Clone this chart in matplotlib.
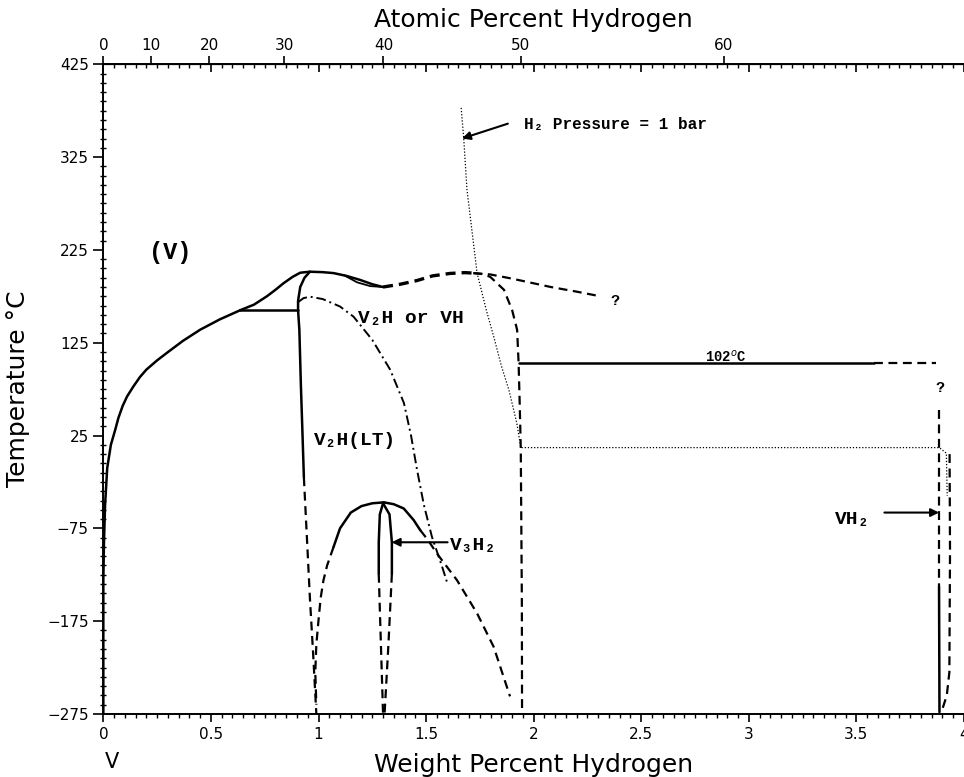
import numpy as np
import matplotlib.pyplot as plt

M_H = 1.008
M_V = 50.94

# alpha (V) solvus
alpha_wt = [0.0, 0.0, 0.003, 0.008, 0.018, 0.035, 0.055, 0.07, 0.09, 0.11, 0.14, 0.17, 0.2, 0.25, 0.295,
            0.37, 0.45, 0.54, 0.636]
alpha_T = [-275, -130, -90, -50, -10, 15, 31, 44, 57, 67, 78, 88, 96, 106, 114, 127, 139, 150, 160]

# upper solid boundary (left rise, peak, fall to 1.30)
upper_wt = [0.636, 0.70, 0.76, 0.80, 0.837, 0.88, 0.915, 0.96, 1.02, 1.07, 1.13, 1.194, 1.25, 1.30]
upper_T = [160, 166, 175, 182, 189, 196, 200.4, 201.5, 201, 200, 197, 192.6, 188, 185]
lens_wt = [1.12, 1.18, 1.24, 1.30]
lens_T = [197.5, 190, 186, 185]

tie160_wt = [0.636, 0.905]
tie160_T = [160, 160]

# beta boundary from the maximum down to 0 K
beta_solid_wt = [0.96, 0.935, 0.915, 0.905, 0.905, 0.911, 0.918, 0.925, 0.932]
beta_solid_T = [201.5, 195, 185, 170, 160, 139, 80, 31, -20]
beta_dash_wt = [0.932, 0.945, 0.96, 0.975, 0.99]
beta_dash_T = [-20, -80, -150, -210, -275]

# V2H(LT) boundary (dash-dot)
lt_wt = [0.907, 0.93, 0.96, 1.02, 1.10, 1.163, 1.25, 1.333, 1.397, 1.43, 1.458, 1.49, 1.527, 1.574, 1.60]
lt_T = [169, 173, 174.6, 172, 164, 153, 128, 96, 60, 25, -12, -50, -84, -116, -135]

# dashed cap and extension to "?"
cap_wt = [1.30, 1.38, 1.458, 1.53, 1.61, 1.68, 1.72, 1.80, 1.90, 2.00, 2.08, 2.20, 2.31]
cap_T = [185, 188, 192, 197, 199.6, 200.5, 200, 198.5, 194, 189, 185, 180, 175]

# VH boundary
vh_wt = [1.72, 1.76, 1.798, 1.862, 1.90, 1.923, 1.93, 1.935, 1.94, 1.945, 1.946]
vh_T = [200, 199, 196, 182, 160, 139, 103, 60, 12, -150, -275]

# H2 pressure = 1 bar isobar
iso_wt = [1.663, 1.675, 1.69, 1.713, 1.737, 1.78, 1.815, 1.85, 1.885, 1.922, 1.94, 3.885, 3.918, 3.922]
iso_T = [378, 345, 290, 246, 200, 160, 131, 100, 74, 38, 12, 12, 6, -40]

# 102 C tie line
tie102_solid_wt = [1.93, 3.58]
tie102_dash_wt = [3.58, 3.87]
tie102_T = [103, 103]

# VH2 boundaries
vh2_left_dash_wt = [3.884, 3.884]
vh2_left_dash_T = [52, -138]
vh2_left_solid_wt = [3.884, 3.886]
vh2_left_solid_T = [-138, -273]
vh2_right_wt = [3.933, 3.935, 3.932, 3.92, 3.895]
vh2_right_T = [5, -100, -230, -255, -273]

# V3H2 dome
dome_ls_wt = [1.07, 1.10, 1.15, 1.20, 1.25, 1.304]
dome_ls_T = [-95, -75, -58, -51, -48, -47]
dome_ld_wt = [1.07, 1.04, 1.023, 1.01, 1.0, 0.99, 0.985, 0.99]
dome_ld_T = [-95, -115, -131, -150, -174, -200, -230, -265]
dome_rs_wt = [1.304, 1.35, 1.396, 1.442, 1.473]
dome_rs_T = [-47, -49, -53.6, -66, -77]
dome_rd_wt = [1.473, 1.51, 1.55, 1.644, 1.737, 1.814, 1.89]
dome_rd_T = [-77, -88, -102, -131, -166.6, -202.6, -256]

# V3H2 narrow lens
v3l_solid_wt = [1.30, 1.285, 1.28, 1.28]
v3r_solid_wt = [1.30, 1.33, 1.341, 1.341]
v3_solid_T = [-48, -60, -90, -124]
v3l_dash_wt = [1.28, 1.29, 1.30]
v3r_dash_wt = [1.341, 1.325, 1.307]
v3_dash_T = [-124, -200, -275]

at_ticks = [0, 10, 20, 30, 40, 50, 60]
wt_ticks = [0, 0.5, 1, 1.5, 2, 2.5, 3, 3.5, 4]
wt_labels = ['0', '0.5', '1', '1.5', '2', '2.5', '3', '3.5', '4']
T_ticks = [-275, -175, -75, 25, 125, 225, 325, 425]


def wt_to_at(w):
    w = np.asarray(w, dtype=float)
    with np.errstate(divide='ignore', invalid='ignore'):
        nh = w / M_H
        nv = (100 - w) / M_V
        return 100 * nh / (nh + nv)


def at_to_wt(a):
    a = np.asarray(a, dtype=float)
    with np.errstate(divide='ignore', invalid='ignore'):
        return 100 * a * M_H / (a * M_H + (100 - a) * M_V)


fig = plt.figure(figsize=(9.64, 7.77), dpi=100)
ax = fig.add_axes([0.1072, 0.0811, 0.8928, 0.8362])
ax.set_xlim(0, 4.0)
ax.set_ylim(-275, 425)

solid = dict(color='black', lw=1.8, solid_capstyle='round')
dashed = dict(color='black', lw=1.6, linestyle=(0, (4, 2.5)))
dotted = dict(color='black', lw=0.9, linestyle=(0, (1, 1.5)))

ax.plot(alpha_wt, alpha_T, **solid)
ax.plot(upper_wt, upper_T, **solid)
ax.plot(lens_wt, lens_T, color='black', lw=1.3)
ax.plot(tie160_wt, tie160_T, **solid)
ax.plot(beta_solid_wt, beta_solid_T, **solid)
ax.plot(beta_dash_wt, beta_dash_T, **dashed)
ax.plot(lt_wt, lt_T, color='black', lw=1.4, linestyle=(0, (5, 2, 1, 2)))
ax.plot(cap_wt[:7], cap_T[:7], color='black', lw=2.4, linestyle=(0, (3, 1.8)))
ax.plot(cap_wt[6:], cap_T[6:], **dashed)
ax.plot(vh_wt, vh_T, **dashed)
ax.plot(iso_wt, iso_T, **dotted)
ax.plot(tie102_solid_wt, tie102_T, **solid)
ax.plot(tie102_dash_wt, tie102_T, **dashed)
ax.plot(vh2_left_dash_wt, vh2_left_dash_T, **dashed)
ax.plot(vh2_left_solid_wt, vh2_left_solid_T, **solid)
ax.plot(vh2_right_wt, vh2_right_T, **dashed)
ax.plot(dome_ls_wt, dome_ls_T, **solid)
ax.plot(dome_ld_wt, dome_ld_T, **dashed)
ax.plot(dome_rs_wt, dome_rs_T, **solid)
ax.plot(dome_rd_wt, dome_rd_T, **dashed)
ax.plot(v3l_solid_wt, v3_solid_T, **solid)
ax.plot(v3r_solid_wt, v3_solid_T, **solid)
ax.plot(v3l_dash_wt, v3_dash_T, **dashed)
ax.plot(v3r_dash_wt, v3_dash_T, **dashed)

# labels inside the diagram
lab = dict(family=['Liberation Mono', 'DejaVu Sans Mono'], fontweight='bold', color='black')
ax.text(0.31, 222, '(V)', fontsize=17, ha='center', va='center', **lab)
ax.text(1.43, 151, 'V₂H or VH', fontsize=14, ha='center', va='center', **lab)
ax.text(1.17, 20, 'V₂H(LT)', fontsize=14, ha='center', va='center', **lab)
ax.text(2.89, 110, '102$^o$C', fontsize=10, ha='center', va='center', **lab)
ax.text(2.38, 170, '?', fontsize=11, ha='center', va='center', **lab)
ax.text(3.89, 76, '?', fontsize=11, ha='center', va='center', **lab)
ax.text(1.61, -93, 'V₃H₂', fontsize=14, ha='left', va='center', **lab)
ax.text(3.48, -65, 'VH₂', fontsize=14, ha='center', va='center', **lab)
ax.text(1.955, 360, 'H₂ Pressure = 1 bar', fontsize=11.5, ha='left', va='center', **lab)

arrow = dict(arrowstyle='-|>', color='black', lw=1.5, mutation_scale=12, shrinkA=0, shrinkB=0)
ax.annotate('', xy=(1.667, 345), xytext=(1.88, 361), arrowprops=arrow)
ax.annotate('', xy=(1.34, -90), xytext=(1.60, -90), arrowprops=arrow)
ax.annotate('', xy=(3.884, -58), xytext=(3.63, -58), arrowprops=arrow)

ax.text(0.04, -327, 'V', fontsize=15, ha='center', va='center', clip_on=False)

# axes styling
for s in ['left', 'bottom', 'top']:
    ax.spines[s].set_linewidth(1.4)
ax.spines['right'].set_visible(False)

ax.set_xticks(wt_ticks)
ax.set_xticklabels(wt_labels)
ax.set_xticks(np.arange(0, 4.001, 0.05), minor=True)
ax.set_yticks(T_ticks)
ax.set_yticks(np.arange(-275, 426, 10), minor=True)
ax.tick_params(axis='x', which='major', direction='out', length=6, width=1.2, labelsize=11)
ax.tick_params(axis='x', which='minor', direction='out', length=3, width=1.0)
ax.tick_params(axis='y', which='major', direction='out', length=7, width=1.2, labelsize=11)
ax.tick_params(axis='y', which='minor', direction='inout', length=4, width=1.0)

ax.set_xlabel('Weight Percent Hydrogen', fontsize=18, labelpad=8)
ax.set_ylabel('Temperature °C', fontsize=18, labelpad=12)

top_wt = ax.secondary_xaxis('top')
top_wt.set_xticks(wt_ticks)
top_wt.set_xticklabels([])
top_wt.set_xticks(np.arange(0, 4.001, 0.05), minor=True)
top_wt.tick_params(which='major', direction='in', length=6, width=1.2)
top_wt.tick_params(which='minor', direction='in', length=3, width=1.0)

top_at = ax.secondary_xaxis('top', functions=(wt_to_at, at_to_wt))
top_at.set_xticks(at_ticks)
top_at.tick_params(which='major', direction='out', length=6, width=1.2, labelsize=11, pad=2)
top_at.minorticks_off()
top_at.set_xlabel('Atomic Percent Hydrogen', fontsize=18, labelpad=8)

fig.savefig('out.png', dpi=100)
